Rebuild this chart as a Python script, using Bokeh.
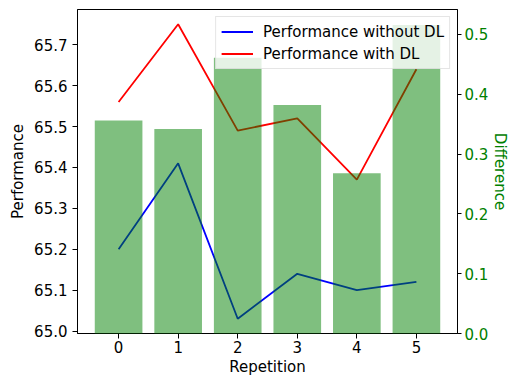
from bokeh.plotting import figure
from bokeh.models import Range1d, LinearAxis, FixedTicker, PrintfTickFormatter
from bokeh.embed import file_html
from bokeh.resources import INLINE

repetition = [0, 1, 2, 3, 4, 5]
perf_without = [65.20, 65.41, 65.03, 65.14, 65.10, 65.12]
perf_with = [65.56, 65.75, 65.49, 65.52, 65.37, 65.64]
difference = [0.356, 0.342, 0.461, 0.382, 0.268, 0.516]
left_ticks = [65.0, 65.1, 65.2, 65.3, 65.4, 65.5, 65.6, 65.7]
right_ticks = [0.0, 0.1, 0.2, 0.3, 0.4, 0.5]

FONT = "DejaVu Sans"
FS = "15px"

lo = min(perf_without + perf_with)
hi = max(perf_without + perf_with)
pad = 0.05 * (hi - lo)
bar_w = 0.8
xpad = 0.05 * (max(repetition) - min(repetition) + bar_w)

p = figure(width=512, height=378, output_backend="svg", toolbar_location=None,
           x_range=Range1d(min(repetition) - bar_w / 2 - xpad, max(repetition) + bar_w / 2 + xpad),
           y_range=Range1d(lo - pad, hi + pad),
           min_border_left=77, min_border_right=47, min_border_top=9, min_border_bottom=45)
p.extra_y_ranges = {"diff": Range1d(0, max(difference) * 1.05)}

p.background_fill_color = "white"
p.border_fill_color = "white"
p.outline_line_color = "black"
p.outline_line_width = 1
p.xgrid.visible = False
p.ygrid.visible = False

p.line(repetition, perf_without, color="#0000ff", line_width=1.8, legend_label="Performance without DL")
p.line(repetition, perf_with, color="#ff0000", line_width=1.8, legend_label="Performance with DL")
bars = p.vbar(x=repetition, top=difference, bottom=0, width=bar_w, y_range_name="diff",
              fill_color="#008000", fill_alpha=0.5, line_color=None)
bars.level = "overlay"

right = LinearAxis(y_range_name="diff", axis_label="Difference")
p.add_layout(right, "right")

for ax in [p.xaxis[0], p.yaxis[0], right]:
    ax.major_tick_out = 5
    ax.major_tick_in = 0
    ax.minor_tick_out = 0
    ax.minor_tick_in = 0
    ax.major_label_text_font = FONT
    ax.major_label_text_font_size = FS
    ax.major_label_text_color = "black"
    ax.axis_label_text_font = FONT
    ax.axis_label_text_font_size = FS
    ax.axis_label_text_font_style = "normal"
    ax.axis_label_text_color = "black"
    ax.axis_line_color = "black"
    ax.major_tick_line_color = "black"

p.xaxis[0].ticker = FixedTicker(ticks=repetition)
p.xaxis[0].axis_label = "Repetition"
p.xaxis[0].major_label_standoff = 2
p.xaxis[0].axis_label_standoff = 2

p.yaxis[0].ticker = FixedTicker(ticks=left_ticks)
p.yaxis[0].formatter = PrintfTickFormatter(format="%.1f")
p.yaxis[0].axis_label = "Performance"
p.yaxis[0].major_label_standoff = 5
p.yaxis[0].axis_label_standoff = 4

right.ticker = FixedTicker(ticks=right_ticks)
right.formatter = PrintfTickFormatter(format="%.1f")
right.major_label_text_color = "#008000"
right.axis_label_text_color = "#008000"
right.major_tick_out = 4
right.major_label_standoff = 3
right.axis_label_standoff = 0

lg = p.legend[0]
lg.location = "top_right"
lg.margin = 7
lg.padding = 5
lg.spacing = 3
lg.label_height = 19
lg.glyph_width = 32
lg.glyph_height = 19
lg.label_standoff = 10
lg.label_text_font = FONT
lg.label_text_font_size = FS
lg.label_text_color = "black"
lg.border_line_color = "#cccccc"
lg.border_line_width = 1
lg.background_fill_color = "white"
lg.background_fill_alpha = 0.8

open("out.html", "w").write(file_html(p, INLINE))
